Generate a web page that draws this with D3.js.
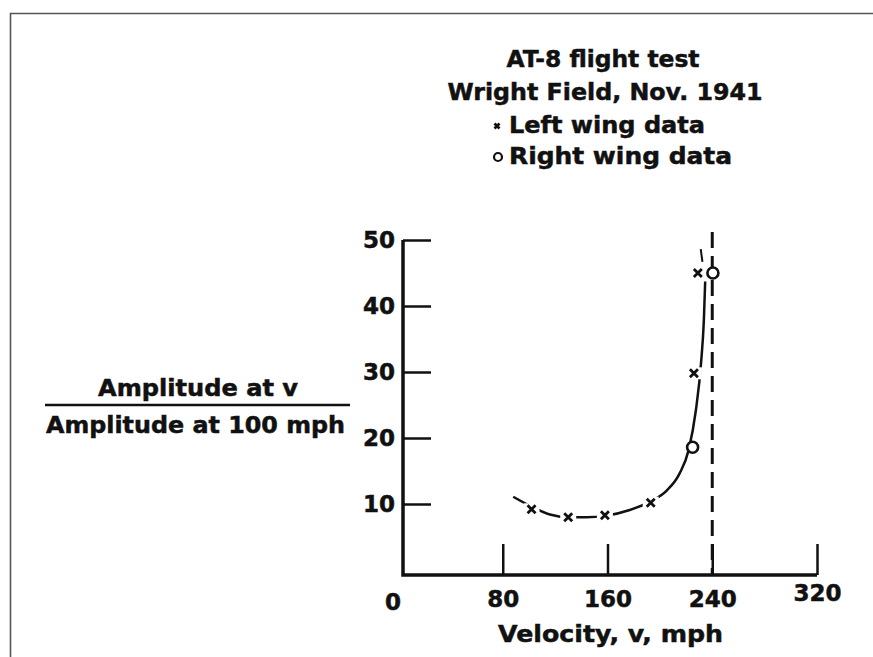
<!DOCTYPE html>
<html>
<head>
<meta charset="utf-8">
<script src="https://cdn.jsdelivr.net/npm/d3@7"></script>
<style>
  body { margin: 0; background: #fff; }
  svg text { font-family: "DejaVu Sans", sans-serif; font-weight: bold; fill: #111;
             stroke: #111; stroke-width: 0.5px; }
</style>
</head>
<body>
<div id="chart"></div>
<script>
// values
const xTicks = [80, 160, 240, 320]
const yTicks = [10, 20, 30, 40, 50]
const titleLines = ["AT-8 flight test", "Wright Field, Nov. 1941"]
const legendLabels = ["Left wing data", "Right wing data"]

// [velocity mph, amplitude ratio]
const leftWing = [[102, 9.2], [130, 8.0], [158, 8.3], [193, 10.2], [226, 29.8], [229, 45]]
const rightWing = [[225, 18.6], [240.5, 45]]
// faired curve
const curvePts = [[88, 11.1], [102, 9.6], [116, 8.4], [130, 8.0], [144, 8.0], [158, 8.2],
  [177, 9.1], [193, 10.4], [205, 12.0], [215, 14.6], [222, 18.2], [227.5, 24.2],
  [231.5, 31.5], [233.6, 37.9], [234.6, 43.7]]
const curveTop = [[232.5, 46.7], [231.2, 48.6]]
const asymptoteV = 240
const asymptoteTop = 51.2

const w = 873
const h = 657

var svg = d3.select("#chart").append("svg")
    .attr("width", w).attr("height", h)

// scan border (top + left)
svg.append("path")
    .attr("d", "M10.5," + h + "V13.5H" + w)
    .attr("fill", "none").attr("stroke", "#555").attr("stroke-width", 1.6)

var x = d3.scaleLinear().domain([0, 320]).range([398, 817])
var y = d3.scaleLinear().domain([0, 50]).range([570, 240])

var axisY = y(0) + 5   // x axis sits a bit below zero in the original
var axisX = x(0) + 5

// axes frame
svg.append("path")
    .attr("d", "M" + axisX + "," + y(50) + "V" + axisY + "H" + x(320))
    .attr("fill", "none").attr("stroke", "#111").attr("stroke-width", 3.5)

var gy = svg.append("g").attr("transform", "translate(" + axisX + ",0)")
    .call(d3.axisLeft(y).tickValues(yTicks).tickSize(-28).tickPadding(8))
gy.select(".domain").remove()
gy.selectAll(".tick line").attr("stroke", "#111").attr("stroke-width", 2.5)
gy.selectAll(".tick text").style("font-size", "23px").attr("fill", "#111")

var gx = svg.append("g").attr("transform", "translate(0," + axisY + ")")
    .call(d3.axisBottom(x).tickValues(xTicks).tickSize(-31).tickPadding(14))
gx.select(".domain").remove()
gx.selectAll(".tick line").attr("stroke", "#111").attr("stroke-width", 2.5)
gx.selectAll(".tick text").style("font-size", "23px").attr("fill", "#111")
    .attr("dy", function(d) { return d == 320 ? "0.5em" : "0.8em" })

svg.append("text").attr("x", x(0) - 5).attr("y", axisY + 35)
    .attr("text-anchor", "middle").style("font-size", "23px").text("0")

// asymptote
svg.append("line")
    .attr("x1", x(asymptoteV)).attr("x2", x(asymptoteV))
    .attr("y1", y(asymptoteTop)).attr("y2", axisY)
    .attr("stroke", "#111").attr("stroke-width", 3)
    .attr("stroke-dasharray", "16,8")

var line = d3.line().x(d => x(d[0])).y(d => y(d[1])).curve(d3.curveMonotoneX)

svg.append("path").datum(curvePts).attr("d", line)
    .attr("fill", "none").attr("stroke", "#111").attr("stroke-width", 2.5)
svg.append("path").datum(curveTop).attr("d", d3.line().x(d => x(d[0])).y(d => y(d[1])))
    .attr("fill", "none").attr("stroke", "#111").attr("stroke-width", 2)

// markers: white patch behind so the curve breaks around them
function cross(g, cx, cy, s) {
    g.append("rect").attr("x", cx - s - 4).attr("y", cy - s - 2)
        .attr("width", 2 * s + 8).attr("height", 2 * s + 4).attr("fill", "#fff")
    g.append("path")
        .attr("d", "M" + (cx - s) + "," + (cy - s) + "L" + (cx + s) + "," + (cy + s) +
            "M" + (cx + s) + "," + (cy - s) + "L" + (cx - s) + "," + (cy + s))
        .attr("stroke", "#111").attr("stroke-width", 2.8)
}

var mk = svg.append("g")
leftWing.forEach(function(d) { cross(mk, x(d[0]), y(d[1]), 4) })
rightWing.forEach(function(d) {
    mk.append("circle").attr("cx", x(d[0])).attr("cy", y(d[1])).attr("r", 5.5)
        .attr("fill", "#fff").attr("stroke", "#111").attr("stroke-width", 2.6)
})

// title + legend (widths matched to the scan)
var titleW = [193, 315]
svg.selectAll(".title").data(titleLines).enter().append("text")
    .attr("class", "title")
    .attr("x", (d, i) => 603 - titleW[i] / 2 + (i ? 2 : 0)).attr("y", (d, i) => 67 + i * 33)
    .attr("textLength", (d, i) => titleW[i]).attr("lengthAdjust", "spacingAndGlyphs")
    .style("font-size", "23px")
    .text(d => d)

var legW = [196, 223]
svg.selectAll(".leg").data(legendLabels).enter().append("text")
    .attr("class", "leg")
    .attr("x", 509).attr("y", (d, i) => 133 + i * 31)
    .attr("textLength", (d, i) => legW[i]).attr("lengthAdjust", "spacingAndGlyphs")
    .style("font-size", "23px")
    .text(d => d)
cross(svg, 497, 126, 2.5)
svg.append("circle").attr("cx", 498).attr("cy", 157).attr("r", 4)
    .attr("fill", "none").attr("stroke", "#111").attr("stroke-width", 2.2)

// y label as fraction
svg.append("text").attr("x", 98).attr("y", 396)
    .attr("textLength", 200).attr("lengthAdjust", "spacingAndGlyphs")
    .style("font-size", "23px").text("Amplitude at v")
svg.append("line").attr("x1", 45).attr("x2", 350).attr("y1", 405).attr("y2", 405)
    .attr("stroke", "#111").attr("stroke-width", 2.5)
svg.append("text").attr("x", 46).attr("y", 433)
    .attr("textLength", 299).attr("lengthAdjust", "spacingAndGlyphs")
    .style("font-size", "23px").text("Amplitude at 100 mph")

svg.append("text").attr("x", 498).attr("y", 642)
    .attr("textLength", 225).attr("lengthAdjust", "spacingAndGlyphs")
    .style("font-size", "23px").text("Velocity, v, mph")
</script>
</body>
</html>
